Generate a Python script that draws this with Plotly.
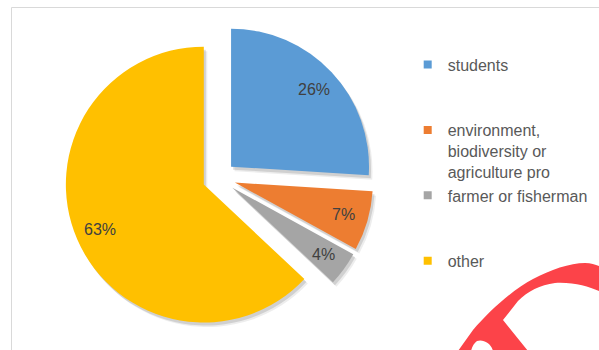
import math
import plotly.graph_objects as go

# Respondent groups and their shares (%)
categories = ["students", "environment, biodiversity or agriculture pro",
              "farmer or fisherman", "other"]
legend_labels = ["students", "environment,<br>biodiversity or<br>agriculture pro",
                 "farmer or fisherman", "other"]
shares = [26, 7, 4, 63]
colors = ["#5B9BD5", "#ED7D31", "#A5A5A5", "#FFC000"]

W, H = 599, 350
PULL = 0.12          # every slice exploded by 12% of the radius
CX, CY = 219, 178    # pie centre in px
BOX = 309            # square pie box in px
R = BOX / (2 * (1 + PULL))
FONT = "Liberation Sans, Arial, sans-serif"


def fx(x):
    return x / W


def fy(y):
    return 1 - y / H


def pie_domain(dx=0.0, dy=0.0):
    return dict(x=[fx(CX - BOX / 2 + dx), fx(CX + BOX / 2 + dx)],
                y=[fy(CY + BOX / 2 + dy), fy(CY - BOX / 2 + dy)])


fig = go.Figure()

# soft drop shadow under the slices
for dx, dy, alpha in [(3.5, 4.5, 0.07), (2, 3, 0.12)]:
    fig.add_trace(go.Pie(
        labels=categories, values=shares, sort=False, direction="clockwise",
        rotation=0, pull=PULL, domain=pie_domain(dx, dy),
        marker=dict(colors=[f"rgba(0,0,0,{alpha})"] * len(shares)),
        textinfo="none", hoverinfo="skip", showlegend=False,
    ))

fig.add_trace(go.Pie(
    labels=categories, values=shares, sort=False, direction="clockwise",
    rotation=0, pull=PULL, domain=pie_domain(),
    marker=dict(colors=colors, line=dict(width=0)),
    textinfo="none", showlegend=False,
))

# legend entries (square swatches), padded so the rows spread evenly
n = len(categories)
for i, (lab, col) in enumerate(zip(legend_labels, colors)):
    lines = lab.count("<br>") + 1
    if i < n - 1:
        lab = lab + "<br> " * (3 - lines)
    fig.add_trace(go.Scatter(
        x=[None], y=[None], mode="markers", name=lab,
        marker=dict(symbol="square", size=8, color=col),
        hoverinfo="skip", showlegend=True,
    ))

# percentage labels near the outer end of each slice
annotations = []
total = sum(shares)
start = 0.0
for v in shares:
    mid = (start + v / 2) / total * 2 * math.pi
    start += v
    d = PULL * R + 0.82 * R
    x = CX + d * math.sin(mid)
    y = CY - d * math.cos(mid)
    annotations.append(dict(
        x=fx(x), y=fy(y), xref="paper", yref="paper", showarrow=False,
        text=f"{v}%", font=dict(family=FONT, size=16, color="#404040"),
        xanchor="center", yanchor="middle",
    ))

# red brush-stroke mark in the lower right corner
stroke = [
    ("M", [(458, 351)]), ("L", [(473, 330)]),
    ("C", [(490, 310), (515, 288), (533, 279)]),
    ("C", [(550, 270), (570, 263), (585, 263)]),
    ("C", [(592, 263), (597, 265), (601, 267)]),
    ("L", [(601, 292)]),
    ("C", [(590, 287), (575, 282), (555, 283)]),
    ("C", [(540, 285), (528, 291), (518, 301)]),
    ("L", [(503, 320)]), ("L", [(528, 351)]), ("L", [(493, 351)]),
    ("C", [(491, 343), (483, 339), (477, 341)]),
    ("C", [(474, 343), (472, 347), (471, 351)]),
]
path = " ".join(
    cmd + " ".join(f"{fx(px):.5f},{fy(py):.5f}" for px, py in pts)
    for cmd, pts in stroke
) + " Z"

shapes = [
    # chart frame
    dict(type="rect", xref="paper", yref="paper",
         x0=fx(11.5), y0=fy(7.5), x1=fx(W + 20), y1=fy(H + 20),
         line=dict(color="#D9D9D9", width=1), fillcolor="rgba(0,0,0,0)",
         layer="below"),
    dict(type="path", xref="paper", yref="paper", path=path,
         fillcolor="#FC4349", line=dict(width=0), layer="above"),
]

fig.update_layout(
    width=W, height=H, margin=dict(l=0, r=0, t=0, b=0),
    paper_bgcolor="white", plot_bgcolor="white",
    xaxis=dict(visible=False), yaxis=dict(visible=False),
    showlegend=True,
    legend=dict(x=fx(407.7), y=fy(47.6), xanchor="left", yanchor="top",
                valign="top", itemwidth=30, tracegroupgap=0,
                bgcolor="rgba(0,0,0,0)",
                font=dict(family=FONT, size=16, color="#595959")),
    annotations=annotations, shapes=shapes,
)

fig.write_html("out.html")
